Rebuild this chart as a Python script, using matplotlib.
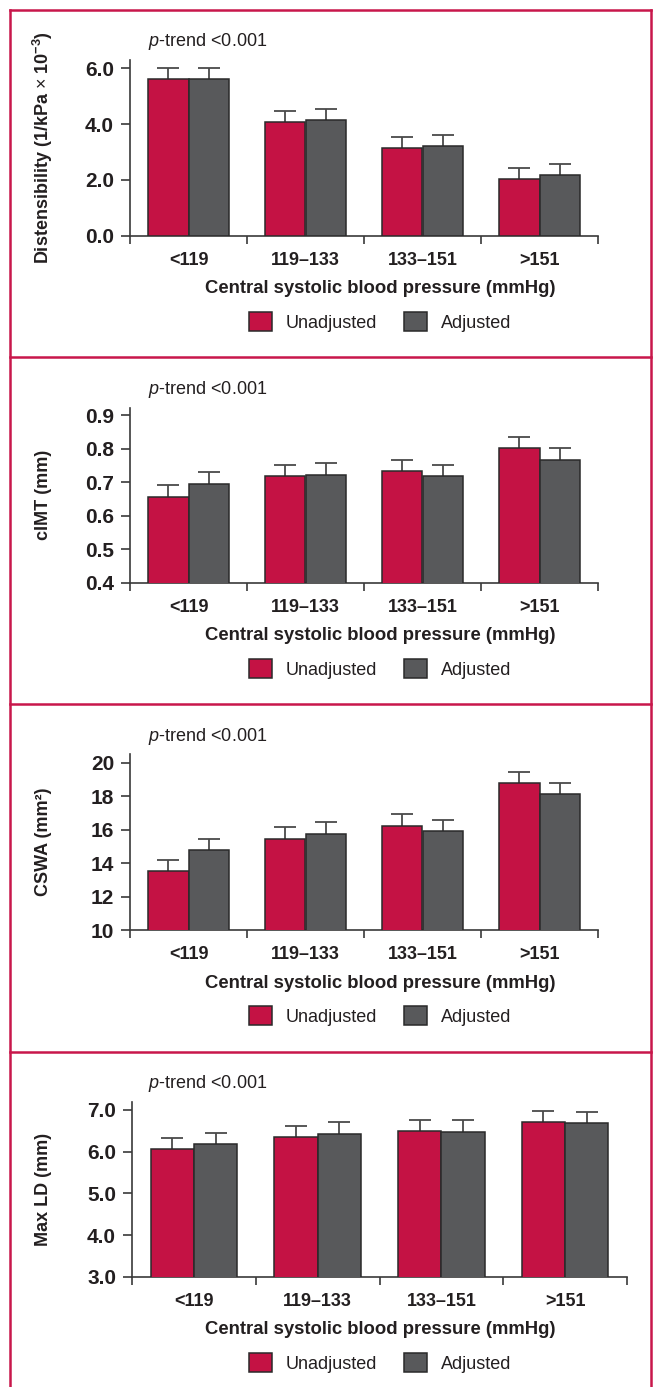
import matplotlib
matplotlib.use('Agg')
import matplotlib.pyplot as plt
from matplotlib.lines import Line2D
from matplotlib.patches import Patch
import numpy as np

# ---------------- data ----------------
categories = ['<119', '119\u2013133', '133\u2013151', '>151']
xlabel_text = 'Central systolic blood pressure (mmHg)'
series_labels = ['Unadjusted', 'Adjusted']
ptrend_text = r'$\mathit{p}$-trend <0.001'

dist_unadj = [5.61, 4.06, 3.13, 2.03]
dist_unadj_err = [0.39, 0.41, 0.41, 0.41]
dist_adj = [5.61, 4.14, 3.20, 2.18]
dist_adj_err = [0.39, 0.40, 0.42, 0.40]
dist_ticks = [0.0, 2.0, 4.0, 6.0]

cimt_unadj = [0.656, 0.717, 0.732, 0.801]
cimt_unadj_err = [0.034, 0.035, 0.034, 0.034]
cimt_adj = [0.695, 0.720, 0.718, 0.767]
cimt_adj_err = [0.034, 0.036, 0.034, 0.035]
cimt_ticks = [0.4, 0.5, 0.6, 0.7, 0.8, 0.9]

cswa_unadj = [13.51, 15.46, 16.23, 18.79]
cswa_unadj_err = [0.69, 0.68, 0.68, 0.68]
cswa_adj = [14.80, 15.76, 15.93, 18.11]
cswa_adj_err = [0.66, 0.70, 0.66, 0.67]
cswa_ticks = [10, 12, 14, 16, 18, 20]

maxld_unadj = [6.07, 6.35, 6.50, 6.71]
maxld_unadj_err = [0.27, 0.27, 0.27, 0.26]
maxld_adj = [6.18, 6.42, 6.48, 6.69]
maxld_adj_err = [0.26, 0.28, 0.27, 0.27]
maxld_ticks = [3.0, 4.0, 5.0, 6.0, 7.0]

# ---------------- style ----------------
plt.rcParams['font.family'] = ['Liberation Sans', 'DejaVu Sans']
plt.rcParams['mathtext.fontset'] = 'custom'
plt.rcParams['mathtext.rm'] = 'Liberation Sans'
plt.rcParams['mathtext.it'] = 'Liberation Sans:italic'
plt.rcParams['mathtext.bf'] = 'Liberation Sans:bold'

RED = '#C41244'
GREY = '#58595B'
EDGE = '#2A2A2A'
AXC = '#3A3A3A'
ERRC = '#4A4A4A'
BORDER = '#C8174B'
TXT = '#231F20'

W, H = 653, 1387
fig = plt.figure(figsize=(W / 100, H / 100), dpi=100)


def fx(px):
    return px / W


def fy(py):
    return 1 - py / H


panels = [
    dict(u=dist_unadj, ue=dist_unadj_err, a=dist_adj, ae=dist_adj_err,
         ylabel=r'Distensibility (1/kPa $\times$ 10$^{\mathbf{-3}}$)', ylim=(0, 6.3),
         ticks=dist_ticks, fmt='{:.1f}', left=130, right=598, top=60, bottom=235.7),
    dict(u=cimt_unadj, ue=cimt_unadj_err, a=cimt_adj, ae=cimt_adj_err,
         ylabel='cIMT (mm)', ylim=(0.4, 0.922),
         ticks=cimt_ticks, fmt='{:.1f}', left=130, right=598, top=407.7, bottom=582.7),
    dict(u=cswa_unadj, ue=cswa_unadj_err, a=cswa_adj, ae=cswa_adj_err,
         ylabel='CSWA (mm\u00b2)', ylim=(10, 20.5),
         ticks=cswa_ticks, fmt='{:.0f}', left=130, right=598, top=754.3, bottom=930),
    dict(u=maxld_unadj, ue=maxld_unadj_err, a=maxld_adj, ae=maxld_adj_err,
         ylabel='Max LD (mm)', ylim=(3, 7.19),
         ticks=maxld_ticks, fmt='{:.1f}', left=132, right=627, top=1102, bottom=1277),
]

bw = 0.35
x = np.arange(len(categories))

for p in panels:
    ax = fig.add_axes([fx(p['left']), fy(p['bottom']),
                       (p['right'] - p['left']) / W, (p['bottom'] - p['top']) / H])
    for vals, errs, col, off in ((p['u'], p['ue'], RED, -bw / 2), (p['a'], p['ae'], GREY, bw / 2)):
        ax.bar(x + off, vals, width=bw, color=col, edgecolor=EDGE, linewidth=1.1, zorder=3)
        eb = ax.errorbar(x + off, vals, yerr=[np.zeros(len(vals)), errs], fmt='none',
                         ecolor=ERRC, elinewidth=1.3, capsize=7.8, capthick=1.3, zorder=2)
        eb[1][0].set_visible(False)
    ax.set_xlim(-0.5, len(categories) - 0.5)
    ax.set_ylim(*p['ylim'])
    ax.spines['top'].set_visible(False)
    ax.spines['right'].set_visible(False)
    for s in ('left', 'bottom'):
        ax.spines[s].set_color(AXC)
        ax.spines[s].set_linewidth(1.2)
    ax.set_yticks(p['ticks'])
    ax.set_yticklabels([p['fmt'].format(t) for t in p['ticks']],
                       fontsize=15, fontweight='bold', color=TXT)
    ax.tick_params(axis='y', direction='out', length=6.5, width=1.2, color=AXC, pad=5)
    ax.set_xticks(np.arange(len(categories) + 1) - 0.5)
    ax.set_xticklabels([])
    ax.set_xticks(x, minor=True)
    ax.set_xticklabels(categories, minor=True, fontsize=13, fontweight='bold', color=TXT)
    ax.tick_params(axis='x', which='major', direction='out', length=5.5, width=1.2, color=AXC)
    ax.tick_params(axis='x', which='minor', length=0, pad=11.5)

    fig.text(fx(43), fy((p['top'] + p['bottom']) / 2), p['ylabel'], rotation=90,
             ha='center', va='center', fontsize=13, fontweight='bold', color=TXT)
    fig.text(fx(148), fy(p['top'] - 13.5), ptrend_text, ha='left', va='baseline',
             fontsize=13, color=TXT)
    fig.text(fx(380), fy(p['bottom'] + 53), xlabel_text, ha='center', va='center',
             fontsize=13.3, fontweight='bold', color=TXT)
    handles = [Patch(facecolor=RED, edgecolor=EDGE, linewidth=1.1),
               Patch(facecolor=GREY, edgecolor=EDGE, linewidth=1.1)]
    fig.legend(handles, series_labels, loc='center', bbox_to_anchor=(fx(380), fy(p['bottom'] + 86)),
               ncol=2, frameon=False, fontsize=13, handlelength=1.27, handleheight=1.27,
               handletextpad=0.75, columnspacing=1.55, borderpad=0, borderaxespad=0,
               labelcolor=TXT)

# ---------------- panel borders ----------------
lw = 1.8
fig.add_artist(Line2D([fx(10), fx(10)], [fy(10), 0], color=BORDER, lw=lw, transform=fig.transFigure))
fig.add_artist(Line2D([fx(651), fx(651)], [fy(10), 0], color=BORDER, lw=lw, transform=fig.transFigure))
for yb in (10, 357, 704, 1052):
    fig.add_artist(Line2D([fx(10), fx(651)], [fy(yb), fy(yb)], color=BORDER, lw=lw,
                          transform=fig.transFigure))

fig.savefig('out.png', dpi=100)
